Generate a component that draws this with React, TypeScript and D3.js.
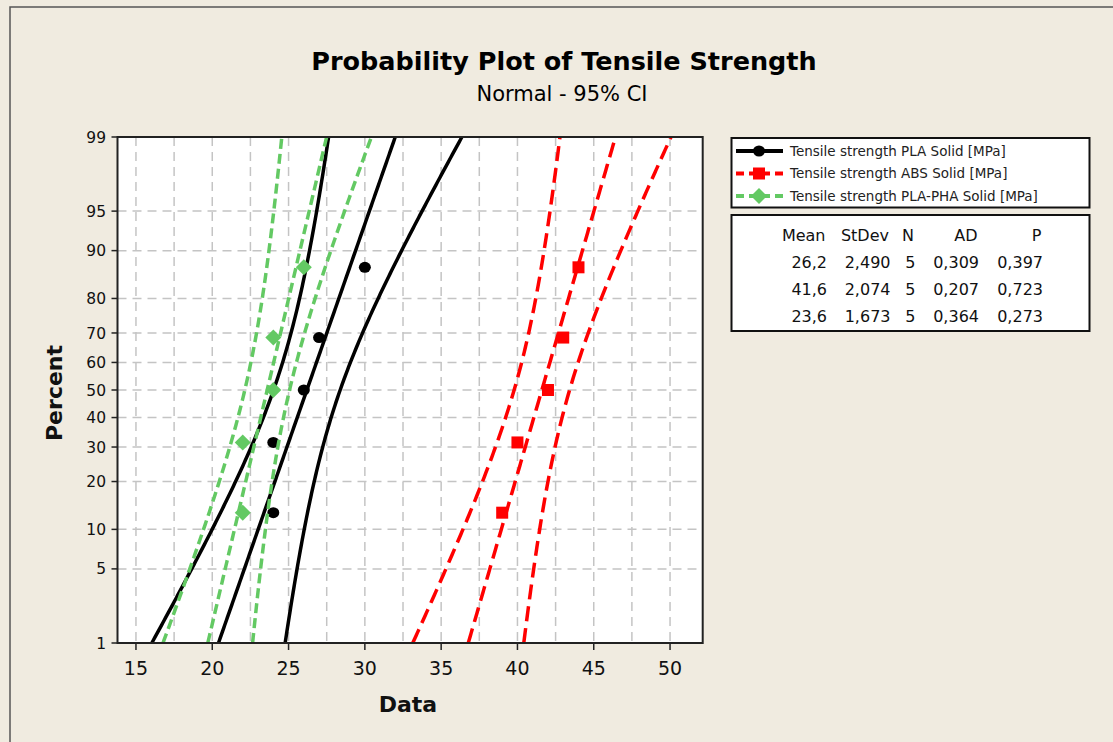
import React from "react";
import * as d3 from "d3";

// ---------- data ----------
const seriesLabels = [
  "Tensile strength PLA Solid [MPa]",
  "Tensile strength ABS Solid [MPa]",
  "Tensile strength PLA-PHA Solid [MPa]",
];
const plaValues = [24, 24, 26, 27, 30];
const absValues = [39, 40, 42, 43, 44];
const plaPhaValues = [22, 22, 24, 24, 26];
const adValues = ["0,309", "0,207", "0,364"];
const pValues = ["0,397", "0,723", "0,273"];
const tableHeaders = ["Mean", "StDev", "N", "AD", "P"];
const xTicks = [15, 20, 25, 30, 35, 40, 45, 50];
const xGrid = [15, 17.5, 20, 22.5, 25, 27.5, 30, 32.5, 35, 37.5, 40, 42.5, 45, 47.5, 50];
const yTicks = [1, 5, 10, 20, 30, 40, 50, 60, 70, 80, 90, 95, 99];
const yGrid = [5, 10, 20, 30, 40, 50, 60, 70, 80, 90, 95];

// ---------- helpers ----------
function probit(p: number): number {
  const a = [-3.969683028665376e1, 2.209460984245205e2, -2.759285104469687e2, 1.38357751867269e2, -3.066479806614716e1, 2.506628277459239];
  const b = [-5.447609879822406e1, 1.615858368580409e2, -1.556989798598866e2, 6.680131188771972e1, -1.328068155288572e1];
  const c = [-7.784894002430293e-3, -3.223964580411365e-1, -2.400758277161838, -2.549732539343734, 4.374664141464968, 2.938163982698783];
  const d = [7.784695709041462e-3, 3.224671290700398e-1, 2.445134137142996, 3.754408661907416];
  const pl = 0.02425;
  if (p < pl) {
    const q = Math.sqrt(-2 * Math.log(p));
    return (((((c[0] * q + c[1]) * q + c[2]) * q + c[3]) * q + c[4]) * q + c[5]) / ((((d[0] * q + d[1]) * q + d[2]) * q + d[3]) * q + 1);
  }
  if (p > 1 - pl) {
    const q = Math.sqrt(-2 * Math.log(1 - p));
    return -(((((c[0] * q + c[1]) * q + c[2]) * q + c[3]) * q + c[4]) * q + c[5]) / ((((d[0] * q + d[1]) * q + d[2]) * q + d[3]) * q + 1);
  }
  const q = p - 0.5;
  const r = q * q;
  return ((((((a[0] * r + a[1]) * r + a[2]) * r + a[3]) * r + a[4]) * r + a[5]) * q) / (((((b[0] * r + b[1]) * r + b[2]) * r + b[3]) * r + b[4]) * r + 1);
}

const W = 1113;
const H = 742;
const L = 117.5, R = 702.7, T = 137, B = 643;

const x = d3.scaleLinear().domain([13.79, 52.14]).range([L, R]);
const y = d3.scaleLinear().domain([probit(0.01), probit(0.99)]).range([B, T]);

const FONT = "'DejaVu Sans', Verdana, sans-serif";

type Series = { values: number[]; color: string; dash?: string; marker: string };
const series: Series[] = [
  { values: plaValues, color: "#000000", marker: "circle" },
  { values: absValues, color: "#FF0000", dash: "15,7", marker: "square" },
  { values: plaPhaValues, color: "#63C963", dash: "10,5", marker: "diamond" },
];

const fmt = (v: number, dgt: number) => v.toFixed(dgt).replace(".", ",");

const zs = d3.range(0, 201).map((i) => probit(0.01) + (i / 200) * (probit(0.99) - probit(0.01)));

function Marker({ kind, cx, cy, color }: { kind: string; cx: number; cy: number; color: string }) {
  if (kind === "circle") return <ellipse cx={cx} cy={cy} rx={6} ry={5.5} fill={color} />;
  if (kind === "square") return <rect x={cx - 6} y={cy - 6} width={12} height={12} fill={color} />;
  return <path d={`M${cx},${cy - 8}L${cx + 8},${cy}L${cx},${cy + 8}L${cx - 8},${cy}Z`} fill={color} />;
}

export default function App() {
  const line = d3.line<[number, number]>().x((d) => x(d[0])).y((d) => y(d[1]));
  const stats = series.map((s) => {
    const n = s.values.length;
    const m = d3.mean(s.values) as number;
    const sd = d3.deviation(s.values) as number;
    return { n, m, sd };
  });

  return (
    <svg width={W} height={H} style={{ position: "absolute", left: 0, top: 0 }} fontFamily={FONT}>
      <defs>
        <clipPath id="plotclip">
          <rect x={L} y={T} width={R - L} height={B - T} />
        </clipPath>
      </defs>
      <rect x={0} y={0} width={W} height={H} fill="#F0EBE0" />
      <rect x={10} y={7} width={W + 20} height={H + 20} fill="#F0EBE0" stroke="#555" strokeWidth={1.5} />

      {/* title */}
      <text x={564} y={70} textAnchor="middle" fontSize={25.5} fontWeight="bold" fill="#000">
        Probability Plot of Tensile Strength
      </text>
      <text x={562} y={101} textAnchor="middle" fontSize={21} fill="#000">
        Normal - 95% CI
      </text>

      {/* plot area */}
      <rect x={L} y={T} width={R - L} height={B - T} fill="#fff" />
      {xGrid.map((g) => (
        <line key={"xg" + g} x1={x(g)} x2={x(g)} y1={T} y2={B} stroke="#C4C4C4" strokeWidth={1.5} strokeDasharray="9,6" />
      ))}
      {yGrid.map((g) => (
        <line key={"yg" + g} x1={L} x2={R} y1={y(probit(g / 100))} y2={y(probit(g / 100))} stroke="#C4C4C4" strokeWidth={1.5} strokeDasharray="9,6" />
      ))}

      <g clipPath="url(#plotclip)">
        {series.map((s, i) => {
          const { n, m, sd } = stats[i];
          const hw = (z: number) => 1.96 * sd * Math.sqrt(1 / n + (z * z) / (2 * n - 1));
          const fit = zs.map((z) => [m + sd * z, z] as [number, number]);
          const lo = zs.map((z) => [m + sd * z - hw(z), z] as [number, number]);
          const hi = zs.map((z) => [m + sd * z + hw(z), z] as [number, number]);
          const sorted = [...s.values].sort((a, b) => a - b);
          return (
            <g key={"s" + i}>
              {[fit, lo, hi].map((pts, k) => (
                <path key={k} d={line(pts) || ""} fill="none" stroke={s.color} strokeWidth={3.5} strokeDasharray={s.dash} />
              ))}
              {sorted.map((v, j) => {
                const p = (j + 1 - 0.3) / (n + 0.4);
                return <Marker key={j} kind={s.marker} cx={x(v)} cy={y(probit(p))} color={s.color} />;
              })}
            </g>
          );
        })}
      </g>

      <rect x={L} y={T} width={R - L} height={B - T} fill="none" stroke="#222" strokeWidth={2} />

      {/* x axis */}
      {xTicks.map((t) => (
        <g key={"xt" + t}>
          <line x1={x(t)} x2={x(t)} y1={B} y2={B + 7} stroke="#222" strokeWidth={1.5} />
          <text x={x(t)} y={675} textAnchor="middle" fontSize={19} fill="#111">
            {t}
          </text>
        </g>
      ))}
      <text x={408} y={712} textAnchor="middle" fontSize={22} fontWeight="bold" fill="#111">
        Data
      </text>

      {/* y axis */}
      {yTicks.map((t) => (
        <g key={"yt" + t}>
          <line x1={L - 6} x2={L} y1={y(probit(t / 100))} y2={y(probit(t / 100))} stroke="#222" strokeWidth={1.5} />
          <text x={106} y={y(probit(t / 100))} dy="0.36em" textAnchor="end" fontSize={15.5} fill="#111">
            {t}
          </text>
        </g>
      ))}
      <text transform="translate(62,393) rotate(-90)" textAnchor="middle" fontSize={22} fontWeight="bold" fill="#111">
        Percent
      </text>

      {/* legend */}
      <rect x={731.5} y={138} width={358} height={69.5} fill="#fff" stroke="#111" strokeWidth={2} />
      {series.map((s, i) => {
        const ly = 151 + i * 22.5;
        return (
          <g key={"lg" + i}>
            <line x1={736} x2={783} y1={ly} y2={ly} stroke={s.color} strokeWidth={4} strokeDasharray={s.dash ? "8,5" : undefined} />
            <Marker kind={s.marker} cx={759} cy={ly} color={s.color} />
            <text x={790} y={ly} dy="0.36em" fontSize={13.5} fill="#222">
              {seriesLabels[i]}
            </text>
          </g>
        );
      })}

      {/* stats table */}
      <rect x={731.5} y={215} width={358} height={116} fill="#fff" stroke="#111" strokeWidth={2} />
      {(() => {
        const cols = [827, 890.5, 915.5, 979, 1043];
        const rows = stats.map((st, i) => [fmt(st.m, 1), fmt(st.sd, 3), String(st.n), adValues[i], pValues[i]]);
        return (
          <g fontSize={16} fill="#111" textAnchor="end">
            {tableHeaders.map((h, k) => (
              <text key={"h" + k} x={cols[k] - 1.5} y={235} dy="0.36em">
                {h}
              </text>
            ))}
            {rows.map((r, i) =>
              r.map((v, k) => (
                <text key={i + "-" + k} x={cols[k]} y={262 + i * 27.3} dy="0.36em">
                  {v}
                </text>
              ))
            )}
          </g>
        );
      })()}
    </svg>
  );
}
